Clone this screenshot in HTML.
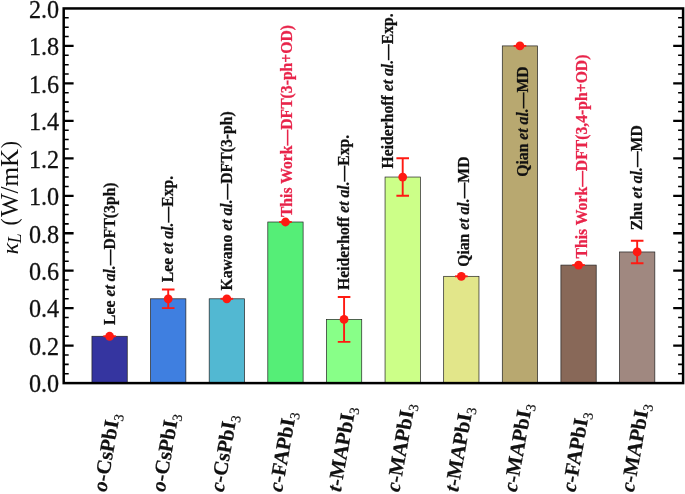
<!DOCTYPE html>
<html><head><meta charset="utf-8"><title>chart</title>
<style>
html,body{margin:0;padding:0;background:#fff;}
svg{display:block;font-family:"Liberation Serif","Times New Roman",serif;}
.tk{font-size:24.2px;fill:#111;stroke:#111;stroke-width:0.25px;}
.an{font-size:15.7px;font-weight:bold;fill:#111;stroke-width:0.25px;}
.xl{font-size:20.6px;font-weight:bold;fill:#111;stroke:#111;stroke-width:0.2px;}
</style></head><body>
<svg width="685" height="494" viewBox="0 0 685 494">
<rect width="685" height="494" fill="#fff"/>
<rect x="91.95" y="336.27" width="35.3" height="46.83" fill="#3535a0" stroke="#222" stroke-width="0.7"/>
<rect x="150.57" y="298.80" width="35.3" height="84.30" fill="#3f7fe0" stroke="#222" stroke-width="0.7"/>
<rect x="209.19" y="298.80" width="35.3" height="84.30" fill="#52b8d2" stroke="#222" stroke-width="0.7"/>
<rect x="267.81" y="222.00" width="35.3" height="161.10" fill="#55ee77" stroke="#222" stroke-width="0.7"/>
<rect x="326.43" y="319.41" width="35.3" height="63.69" fill="#88ff88" stroke="#222" stroke-width="0.7"/>
<rect x="385.05" y="177.04" width="35.3" height="206.06" fill="#ccff88" stroke="#222" stroke-width="0.7"/>
<rect x="443.67" y="276.32" width="35.3" height="106.78" fill="#e2e68a" stroke="#222" stroke-width="0.7"/>
<rect x="502.29" y="45.91" width="35.3" height="337.19" fill="#b8a870" stroke="#222" stroke-width="0.7"/>
<rect x="560.91" y="265.09" width="35.3" height="118.01" fill="#886858" stroke="#222" stroke-width="0.7"/>
<rect x="619.53" y="251.97" width="35.3" height="131.13" fill="#a08880" stroke="#222" stroke-width="0.7"/>
<rect x="63.7" y="8.45" width="619.4" height="374.65000000000003" fill="none" stroke="#000" stroke-width="2.5"/>
<path d="M63.7 373.73h5.0M683.1 373.73h-5.0" stroke="#000" stroke-width="1.55"/>
<path d="M63.7 364.37h5.0M683.1 364.37h-5.0" stroke="#000" stroke-width="1.55"/>
<path d="M63.7 355.00h5.0M683.1 355.00h-5.0" stroke="#000" stroke-width="1.55"/>
<path d="M63.7 345.63h9.9M683.1 345.63h-9.9" stroke="#000" stroke-width="2.3"/>
<path d="M63.7 336.27h5.0M683.1 336.27h-5.0" stroke="#000" stroke-width="1.55"/>
<path d="M63.7 326.90h5.0M683.1 326.90h-5.0" stroke="#000" stroke-width="1.55"/>
<path d="M63.7 317.54h5.0M683.1 317.54h-5.0" stroke="#000" stroke-width="1.55"/>
<path d="M63.7 308.17h9.9M683.1 308.17h-9.9" stroke="#000" stroke-width="2.3"/>
<path d="M63.7 298.80h5.0M683.1 298.80h-5.0" stroke="#000" stroke-width="1.55"/>
<path d="M63.7 289.44h5.0M683.1 289.44h-5.0" stroke="#000" stroke-width="1.55"/>
<path d="M63.7 280.07h5.0M683.1 280.07h-5.0" stroke="#000" stroke-width="1.55"/>
<path d="M63.7 270.70h9.9M683.1 270.70h-9.9" stroke="#000" stroke-width="2.3"/>
<path d="M63.7 261.34h5.0M683.1 261.34h-5.0" stroke="#000" stroke-width="1.55"/>
<path d="M63.7 251.97h5.0M683.1 251.97h-5.0" stroke="#000" stroke-width="1.55"/>
<path d="M63.7 242.61h5.0M683.1 242.61h-5.0" stroke="#000" stroke-width="1.55"/>
<path d="M63.7 233.24h9.9M683.1 233.24h-9.9" stroke="#000" stroke-width="2.3"/>
<path d="M63.7 223.87h5.0M683.1 223.87h-5.0" stroke="#000" stroke-width="1.55"/>
<path d="M63.7 214.51h5.0M683.1 214.51h-5.0" stroke="#000" stroke-width="1.55"/>
<path d="M63.7 205.14h5.0M683.1 205.14h-5.0" stroke="#000" stroke-width="1.55"/>
<path d="M63.7 195.78h9.9M683.1 195.78h-9.9" stroke="#000" stroke-width="2.3"/>
<path d="M63.7 186.41h5.0M683.1 186.41h-5.0" stroke="#000" stroke-width="1.55"/>
<path d="M63.7 177.04h5.0M683.1 177.04h-5.0" stroke="#000" stroke-width="1.55"/>
<path d="M63.7 167.68h5.0M683.1 167.68h-5.0" stroke="#000" stroke-width="1.55"/>
<path d="M63.7 158.31h9.9M683.1 158.31h-9.9" stroke="#000" stroke-width="2.3"/>
<path d="M63.7 148.94h5.0M683.1 148.94h-5.0" stroke="#000" stroke-width="1.55"/>
<path d="M63.7 139.58h5.0M683.1 139.58h-5.0" stroke="#000" stroke-width="1.55"/>
<path d="M63.7 130.21h5.0M683.1 130.21h-5.0" stroke="#000" stroke-width="1.55"/>
<path d="M63.7 120.84h9.9M683.1 120.84h-9.9" stroke="#000" stroke-width="2.3"/>
<path d="M63.7 111.48h5.0M683.1 111.48h-5.0" stroke="#000" stroke-width="1.55"/>
<path d="M63.7 102.11h5.0M683.1 102.11h-5.0" stroke="#000" stroke-width="1.55"/>
<path d="M63.7 92.75h5.0M683.1 92.75h-5.0" stroke="#000" stroke-width="1.55"/>
<path d="M63.7 83.38h9.9M683.1 83.38h-9.9" stroke="#000" stroke-width="2.3"/>
<path d="M63.7 74.01h5.0M683.1 74.01h-5.0" stroke="#000" stroke-width="1.55"/>
<path d="M63.7 64.65h5.0M683.1 64.65h-5.0" stroke="#000" stroke-width="1.55"/>
<path d="M63.7 55.28h5.0M683.1 55.28h-5.0" stroke="#000" stroke-width="1.55"/>
<path d="M63.7 45.91h9.9M683.1 45.91h-9.9" stroke="#000" stroke-width="2.3"/>
<path d="M63.7 36.55h5.0M683.1 36.55h-5.0" stroke="#000" stroke-width="1.55"/>
<path d="M63.7 27.18h5.0M683.1 27.18h-5.0" stroke="#000" stroke-width="1.55"/>
<path d="M63.7 17.82h5.0M683.1 17.82h-5.0" stroke="#000" stroke-width="1.55"/>
<text class="tk" transform="translate(59.2 392.40) scale(1 1.08)" text-anchor="end">0.0</text>
<text class="tk" transform="translate(59.2 354.94) scale(1 1.08)" text-anchor="end">0.2</text>
<text class="tk" transform="translate(59.2 317.47) scale(1 1.08)" text-anchor="end">0.4</text>
<text class="tk" transform="translate(59.2 280.00) scale(1 1.08)" text-anchor="end">0.6</text>
<text class="tk" transform="translate(59.2 242.54) scale(1 1.08)" text-anchor="end">0.8</text>
<text class="tk" transform="translate(59.2 205.08) scale(1 1.08)" text-anchor="end">1.0</text>
<text class="tk" transform="translate(59.2 167.61) scale(1 1.08)" text-anchor="end">1.2</text>
<text class="tk" transform="translate(59.2 130.14) scale(1 1.08)" text-anchor="end">1.4</text>
<text class="tk" transform="translate(59.2 92.68) scale(1 1.08)" text-anchor="end">1.6</text>
<text class="tk" transform="translate(59.2 55.21) scale(1 1.08)" text-anchor="end">1.8</text>
<text class="tk" transform="translate(59.2 17.75) scale(1 1.08)" text-anchor="end">2.0</text>
<text transform="translate(17.8 254.4) rotate(-90) scale(1 0.925)" style="font-size:24.5px;font-style:italic" fill="#111">κ</text>
<text transform="translate(20.8 243.3) rotate(-90) scale(1 1.055)" style="font-size:17.8px;font-style:italic" fill="#111">L</text>
<text transform="translate(17.8 225.4) rotate(-90) scale(1.025 1.055)" style="font-size:24.5px" fill="#111"><tspan font-size="21.4" dy="-0.5">(</tspan><tspan dy="0.5" dx="1">W/mK</tspan><tspan font-size="21.4" dy="-0.5" dx="0.5">)</tspan></text>
<path d="M103.30 336.27h12.6" stroke="#ff1a12" stroke-width="1.9" fill="none"/>
<circle cx="109.60" cy="336.27" r="4.4" fill="#ff1a12"/>
<text class="an" style="fill:#111;stroke:#111" transform="translate(114.90 324.90) rotate(-90)">Lee <tspan font-style="italic">et al.</tspan>—DFT(3ph)</text>
<path d="M168.22 308.17V289.44M161.92 308.17h12.6M161.92 289.44h12.6" stroke="#ff1a12" stroke-width="1.9" fill="none"/>
<circle cx="168.22" cy="298.80" r="4.4" fill="#ff1a12"/>
<text class="an" style="fill:#111;stroke:#111" transform="translate(172.70 282.20) rotate(-90)">Lee <tspan font-style="italic">et al.</tspan>—Exp.</text>
<path d="M220.54 298.80h12.6" stroke="#ff1a12" stroke-width="1.9" fill="none"/>
<circle cx="226.84" cy="298.80" r="4.4" fill="#ff1a12"/>
<text class="an" style="fill:#111;stroke:#111" transform="translate(231.70 290.50) rotate(-90)">Kawano <tspan font-style="italic">et al.</tspan>—DFT(3-ph)</text>
<path d="M279.16 222.00h12.6" stroke="#ff1a12" stroke-width="1.9" fill="none"/>
<circle cx="285.46" cy="222.00" r="4.4" fill="#ff1a12"/>
<text class="an" style="fill:#e8244a;stroke:#e8244a" transform="translate(292.40 217.10) rotate(-90)">This Work—DFT(3-ph+OD)</text>
<path d="M344.08 341.89V296.93M337.78 341.89h12.6M337.78 296.93h12.6" stroke="#ff1a12" stroke-width="1.9" fill="none"/>
<circle cx="344.08" cy="319.41" r="4.4" fill="#ff1a12"/>
<text class="an" style="fill:#111;stroke:#111" transform="translate(349.20 289.90) rotate(-90)">Heiderhoff <tspan font-style="italic">et al.</tspan>—Exp.</text>
<path d="M402.70 195.78V158.31M396.40 195.78h12.6M396.40 158.31h12.6" stroke="#ff1a12" stroke-width="1.9" fill="none"/>
<circle cx="402.70" cy="177.04" r="4.4" fill="#ff1a12"/>
<text class="an" style="fill:#111;stroke:#111" transform="translate(393.00 168.40) rotate(-90)">Heiderhoff <tspan font-style="italic">et al.</tspan>—Exp.</text>
<path d="M455.02 276.32h12.6" stroke="#ff1a12" stroke-width="1.9" fill="none"/>
<circle cx="461.32" cy="276.32" r="4.4" fill="#ff1a12"/>
<text class="an" style="fill:#111;stroke:#111" transform="translate(469.20 266.80) rotate(-90)">Qian <tspan font-style="italic">et al.</tspan>—MD</text>
<path d="M513.64 45.91h12.6" stroke="#ff1a12" stroke-width="1.9" fill="none"/>
<circle cx="519.94" cy="45.91" r="4.4" fill="#ff1a12"/>
<text class="an" style="fill:#111;stroke:#111" transform="translate(527.50 176.70) rotate(-90)">Qian <tspan font-style="italic">et al.</tspan>—MD</text>
<path d="M572.26 265.09h12.6" stroke="#ff1a12" stroke-width="1.9" fill="none"/>
<circle cx="578.56" cy="265.09" r="4.4" fill="#ff1a12"/>
<text class="an" style="fill:#e8244a;stroke:#e8244a" transform="translate(587.00 258.50) rotate(-90)">This Work—DFT(3,4-ph+OD)</text>
<path d="M637.18 263.21V240.73M630.88 263.21h12.6M630.88 240.73h12.6" stroke="#ff1a12" stroke-width="1.9" fill="none"/>
<circle cx="637.18" cy="251.97" r="4.4" fill="#ff1a12"/>
<text class="an" style="fill:#111;stroke:#111" transform="translate(642.20 230.30) rotate(-90)">Zhu <tspan font-style="italic">et al.</tspan>—MD</text>
<text class="xl" transform="translate(106.20 492.4) rotate(-80)"><tspan font-style="italic">o</tspan>-CsPbI<tspan font-size="14" font-weight="normal" dy="4">3</tspan></text>
<text class="xl" transform="translate(164.82 492.4) rotate(-80)"><tspan font-style="italic">o</tspan>-CsPbI<tspan font-size="14" font-weight="normal" dy="4">3</tspan></text>
<text class="xl" transform="translate(223.44 492.4) rotate(-80)"><tspan font-style="italic">c</tspan>-CsPbI<tspan font-size="14" font-weight="normal" dy="4">3</tspan></text>
<text class="xl" transform="translate(282.06 492.4) rotate(-80)"><tspan font-style="italic">c</tspan>-FAPbI<tspan font-size="14" font-weight="normal" dy="4">3</tspan></text>
<text class="xl" transform="translate(340.68 492.4) rotate(-80)"><tspan font-style="italic">t</tspan>-MAPbI<tspan font-size="14" font-weight="normal" dy="4">3</tspan></text>
<text class="xl" transform="translate(399.30 492.4) rotate(-80)"><tspan font-style="italic">c</tspan>-MAPbI<tspan font-size="14" font-weight="normal" dy="4">3</tspan></text>
<text class="xl" transform="translate(457.92 492.4) rotate(-80)"><tspan font-style="italic">t</tspan>-MAPbI<tspan font-size="14" font-weight="normal" dy="4">3</tspan></text>
<text class="xl" transform="translate(516.54 492.4) rotate(-80)"><tspan font-style="italic">c</tspan>-MAPbI<tspan font-size="14" font-weight="normal" dy="4">3</tspan></text>
<text class="xl" transform="translate(575.16 492.4) rotate(-80)"><tspan font-style="italic">c</tspan>-FAPbI<tspan font-size="14" font-weight="normal" dy="4">3</tspan></text>
<text class="xl" transform="translate(633.78 492.4) rotate(-80)"><tspan font-style="italic">c</tspan>-MAPbI<tspan font-size="14" font-weight="normal" dy="4">3</tspan></text>
</svg></body></html>
